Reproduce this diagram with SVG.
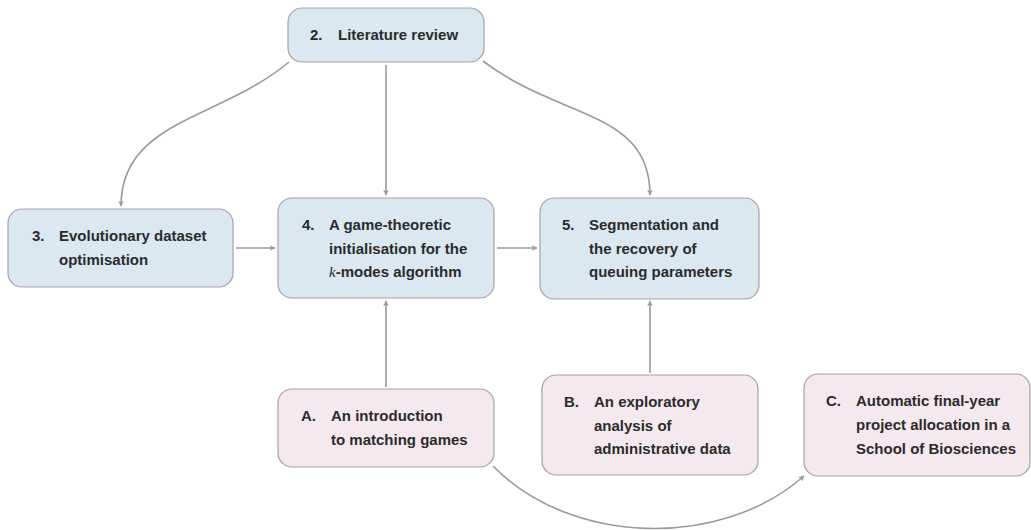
<svg xmlns="http://www.w3.org/2000/svg" width="1031" height="530" viewBox="0 0 1031 530">
  <style>
    .box { stroke: #a3a3a3; stroke-width: 1.2; }
    .main { fill: #d9e8f1; }
    .app { fill: #f5e9ef; }
    text { font-family: "Liberation Sans", Arial, sans-serif; font-size: 15px; font-weight: bold; fill: #2b2b2b; }
    .math { font-family: "Liberation Serif", "Times New Roman", serif; font-style: italic; font-weight: normal; }
    .edge { fill: none; stroke: #9a9a9a; stroke-width: 1.6; marker-end: url(#arrow); }
  </style>
  <defs>
    <marker id="arrow" viewBox="0 0 10 10" refX="9" refY="5" markerWidth="6" markerHeight="6" orient="auto" markerUnits="userSpaceOnUse">
      <path d="M0,0 L10,5 L0,10 L3,5 Z" fill="#9a9a9a"/>
    </marker>
  </defs>

  <rect width="1031" height="530" fill="#ffffff"/>

  <g id="connectors">
    <path class="edge" d="M289,62 C220,120 121,120 121,206"/>
    <path class="edge" d="M386,65 L386,195"/>
    <path class="edge" d="M483,61 C560,120 650,110 650,195"/>
    <path class="edge" d="M236,248 L275,248"/>
    <path class="edge" d="M497,248 L537,248"/>
    <path class="edge" d="M386,387 L386,301"/>
    <path class="edge" d="M650,373 L650,301"/>
    <path class="edge" d="M493,466 C570,545 720,550 804,476"/>
  </g>

  <g id="node-2">
    <rect class="box main" x="288" y="8" width="196" height="54" rx="14"/>
    <text x="310" y="40">2.</text>
    <text x="338" y="40">Literature review</text>
  </g>

  <g id="node-3">
    <rect class="box main" x="8" y="209" width="225" height="78" rx="14"/>
    <text x="32" y="241">3.</text>
    <text x="59" y="241">Evolutionary dataset</text>
    <text x="59" y="265">optimisation</text>
  </g>

  <g id="node-4">
    <rect class="box main" x="278" y="198" width="216" height="100" rx="14"/>
    <text x="302" y="230">4.</text>
    <text x="329" y="230">A game-theoretic</text>
    <text x="329" y="254">initialisation for the</text>
    <text x="329" y="277"><tspan class="math">k</tspan>-modes algorithm</text>
  </g>

  <g id="node-5">
    <rect class="box main" x="540" y="198" width="219" height="101" rx="14"/>
    <text x="562" y="230">5.</text>
    <text x="589" y="230">Segmentation and</text>
    <text x="589" y="254">the recovery of</text>
    <text x="589" y="277">queuing parameters</text>
  </g>

  <g id="node-A">
    <rect class="box app" x="278" y="389" width="216" height="78" rx="14"/>
    <text x="301" y="421">A.</text>
    <text x="331" y="421">An introduction</text>
    <text x="331" y="445">to matching games</text>
  </g>

  <g id="node-B">
    <rect class="box app" x="542" y="375" width="216" height="100" rx="14"/>
    <text x="564" y="407">B.</text>
    <text x="594" y="407">An exploratory</text>
    <text x="594" y="431">analysis of</text>
    <text x="594" y="454">administrative data</text>
  </g>

  <g id="node-C">
    <rect class="box app" x="804" y="374" width="226" height="102" rx="14"/>
    <text x="826" y="406">C.</text>
    <text x="856" y="406">Automatic final-year</text>
    <text x="856" y="430">project allocation in a</text>
    <text x="856" y="454">School of Biosciences</text>
  </g>
</svg>
